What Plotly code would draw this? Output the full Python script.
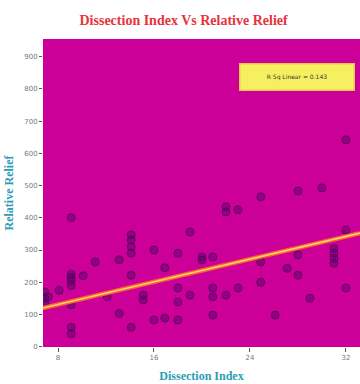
import plotly.graph_objects as go

# Data
dissection_index = [
    6.9, 6.9, 6.9, 7.2,
    8.1,
    9.1, 9.1, 9.1, 9.1, 9.1, 9.1, 9.1, 9.1,
    10.1, 11.1, 12.1,
    13.1, 13.1,
    14.1, 14.1, 14.1, 14.1, 14.1, 14.1,
    15.1, 15.1,
    16.0, 16.0,
    16.9, 16.9,
    18.0, 18.0, 18.0, 18.0,
    19.0, 19.0,
    20.0, 20.0,
    20.9, 20.9, 20.9, 20.9,
    22.0, 22.0, 22.0,
    23.0, 23.0,
    24.9, 24.9, 24.9,
    26.1, 27.1,
    28.0, 28.0, 28.0,
    29.0, 30.0,
    31.0, 31.0, 31.0, 31.0,
    32.0, 32.0, 32.0,
]
relative_relief = [
    170, 150, 135, 155,
    175,
    400, 225, 215, 205, 190, 130, 60, 40,
    220, 263, 155,
    270, 103,
    347, 331, 310, 290, 222, 60,
    145, 160,
    300, 83,
    245, 89,
    290, 182, 139, 83,
    356, 160,
    278, 269,
    278, 182, 155, 98,
    434, 418, 160,
    425, 182,
    465, 263, 200,
    98, 243,
    483, 285, 222,
    150, 493,
    305, 290, 274, 259,
    642, 362, 182,
]
fit_intercept = [60.6]
fit_slope = [8.8]
r_sq_text = ["R Sq Linear = 0.143"]
x_ticks = [8, 16, 24, 32]
x_tick_labels = ["8", "16", "24", "32"]
y_ticks = [0, 100, 200, 300, 400, 500, 600, 700, 800, 900]

x_range = [6.75, 33.17]
y_range = [-1, 955]

fig = go.Figure()

fig.add_trace(go.Scatter(
    x=dissection_index, y=relative_relief, mode="markers",
    marker=dict(size=8, color="rgba(90,0,105,0.5)",
                line=dict(color="rgba(70,0,85,0.7)", width=1)),
    showlegend=False, hoverinfo="skip",
))

fx = x_range
fy = [fit_intercept[0] + fit_slope[0] * v for v in fx]
fig.add_trace(go.Scatter(x=fx, y=fy, mode="lines",
                         line=dict(color="#ff5a3a", width=4.5),
                         showlegend=False, hoverinfo="skip"))
fig.add_trace(go.Scatter(x=fx, y=fy, mode="lines",
                         line=dict(color="#ffd860", width=1.6),
                         showlegend=False, hoverinfo="skip"))

fig.update_layout(
    width=360, height=384,
    margin=dict(l=43, r=0, t=39, b=37),
    paper_bgcolor="white",
    plot_bgcolor="#cc0099",
    title=dict(text="<b>Dissection Index Vs Relative Relief</b>",
               x=0.51, xanchor="center", y=0.947, yanchor="middle",
               font=dict(family="Liberation Serif", size=14, color="#e8323c")),
    xaxis=dict(range=x_range, tickvals=x_ticks, ticktext=x_tick_labels,
               showgrid=False, zeroline=False, ticks="outside", ticklen=4,
               tickcolor="#555", tickfont=dict(family="DejaVu Sans", size=7, color="#777"),
               title=dict(text="<b>Dissection Index</b>", standoff=10,
                          font=dict(family="Liberation Serif", size=12, color="#2a9db5"))),
    yaxis=dict(range=y_range, tickvals=y_ticks,
               showgrid=False, zeroline=False, ticks="outside", ticklen=3,
               tickcolor="#555", tickfont=dict(family="DejaVu Sans", size=7, color="#777"),
               title=dict(text="<b>Relative Relief</b>", standoff=8,
                          font=dict(family="Liberation Serif", size=12, color="#2a9db5"))),
    annotations=[dict(
        text=r_sq_text[0], xref="paper", yref="paper", x=0.80, y=0.878,
        xanchor="center", yanchor="middle", showarrow=False,
        width=111, height=23, bgcolor="#f6f060", bordercolor="#e8c850",
        borderwidth=1.5, font=dict(family="DejaVu Sans", size=6, color="#333"),
    )],
)

fig.write_html("out.html")
